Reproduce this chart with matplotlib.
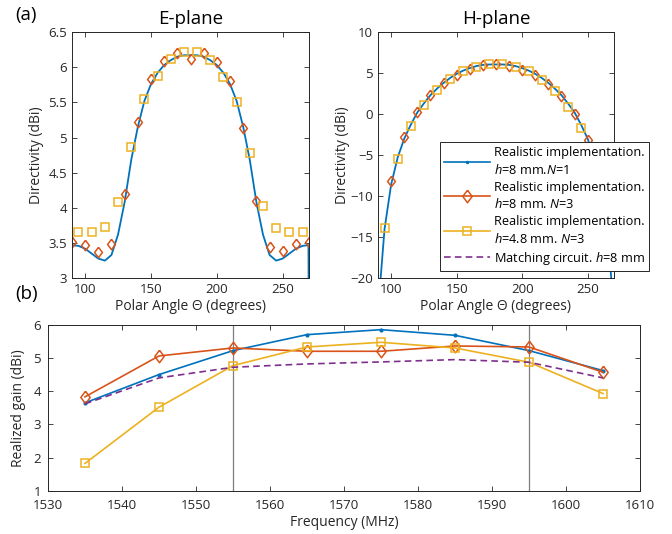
import numpy as np
import matplotlib
matplotlib.use("Agg")
import matplotlib.pyplot as plt
from matplotlib.lines import Line2D

plt.rcParams['font.family'] = ['Open Sans', 'DejaVu Sans']
plt.rcParams['mathtext.fontset'] = 'custom'
plt.rcParams['mathtext.rm'] = 'Open Sans'
plt.rcParams['mathtext.it'] = 'Open Sans:italic'

BLUE = '#0072BD'
RED = '#D95319'
YELLOW = '#EDB120'
PURPLE = '#7E2F8E'
TXT = '#262626'
DIAMOND = [(0, 1), (0.75, 0), (0, -1), (-0.75, 0), (0, 1)]

# ---- E-plane ----
e_theta = [90, 95, 100, 105, 110, 115, 120, 125, 130, 135, 140, 145, 150, 155, 160, 165, 170, 175, 180,
           185, 190, 195, 200, 205, 210, 215, 220, 225, 230, 235, 240, 245, 250, 255, 260, 265, 269.5, 270]
e_n1 = [3.47, 3.46, 3.42, 3.35, 3.28, 3.25, 3.33, 3.62, 4.08, 4.68, 5.15, 5.52, 5.76, 5.92, 6.03, 6.1, 6.15, 6.17, 6.17,
        6.17, 6.15, 6.1, 6.03, 5.92, 5.76, 5.52, 5.15, 4.68, 4.08, 3.62, 3.33, 3.25, 3.28, 3.35, 3.42, 3.46, 3.47, 1.0]
e_red_theta = [90, 100, 110, 120, 130, 140, 150, 160, 170, 180, 190, 200, 210, 220, 230, 240, 250, 260, 270]
e_red = [3.52, 3.47, 3.37, 3.48, 4.2, 5.22, 5.83, 6.09, 6.2, 6.12, 6.2, 6.07, 5.8, 5.13, 4.1, 3.44, 3.38, 3.48, 3.52]
e_yel_theta = [95, 105, 115, 125, 135, 145, 155, 165, 175, 185, 195, 205, 215, 225, 235, 245, 255, 265]
e_yel = [3.66, 3.66, 3.73, 4.09, 4.86, 5.55, 5.88, 6.12, 6.21, 6.21, 6.1, 5.86, 5.5, 4.78, 4.03, 3.71, 3.66, 3.66]

# ---- H-plane ----
h_theta = [92, 95, 100, 105, 110, 115, 120, 125, 130, 135, 140, 145, 150, 155, 160, 165, 170, 175, 180,
           185, 190, 195, 200, 205, 210, 215, 220, 225, 230, 235, 240, 245, 250, 255, 260, 265, 268]
h_n1 = [-20, -14, -8.6, -5.3, -3.0, -1.3, 0.2, 1.3, 2.3, 3.1, 3.8, 4.4, 4.9, 5.3, 5.6, 5.85, 6.0, 6.05, 6.05,
        6.05, 6.0, 5.85, 5.6, 5.3, 4.9, 4.4, 3.8, 3.1, 2.3, 1.3, 0.2, -1.3, -3.0, -5.3, -8.6, -14, -20]
h_red_theta = [100, 110, 120, 130, 140, 150, 160, 170, 180, 190, 200, 210, 220, 230, 240, 250, 260]
h_red = [-8.2, -2.8, 0.3, 2.3, 3.8, 4.8, 5.5, 6.0, 6.1, 5.9, 5.4, 4.8, 3.7, 2.2, 0.0, -3.2, -8.2]
h_yel_theta = [95, 105, 115, 125, 135, 145, 155, 165, 175, 185, 195, 205, 215, 225, 235, 245, 255, 265]
h_yel = [-13.9, -5.5, -1.4, 1.1, 2.9, 4.3, 5.2, 5.8, 6.1, 6.1, 5.8, 5.2, 4.2, 2.8, 0.9, -1.7, -5.5, -13.9]

# ---- realized gain ----
freq = [1535, 1545, 1555, 1565, 1575, 1585, 1595, 1605]
g_n1 = [3.65, 4.5, 5.22, 5.7, 5.85, 5.68, 5.22, 4.62]
g_red = [3.83, 5.06, 5.3, 5.2, 5.2, 5.36, 5.33, 4.57]
g_yel = [1.83, 3.52, 4.77, 5.33, 5.47, 5.3, 4.87, 3.93]
g_match = [3.62, 4.4, 4.72, 4.82, 4.88, 4.95, 4.87, 4.4]
band_edges = [1555, 1595]

labels = ['Realistic implementation.\n$h$=8 mm.$N$=1',
          'Realistic implementation.\n$h$=8 mm. $N$=3',
          'Realistic implementation.\n$h$=4.8 mm. $N$=3',
          'Matching circuit. $h$=8 mm']


def style(ax):
    ax.tick_params(direction='in', top=True, right=True, labelsize=9.5, colors=TXT, length=3.5, width=0.6)
    for s in ax.spines.values():
        s.set_linewidth(0.7)
        s.set_color(TXT)


fig = plt.figure(figsize=(6.72, 5.34), dpi=100)

axE = fig.add_axes([0.107, 0.479, 0.353, 0.461])
axE.plot(e_theta, e_n1, color=BLUE, lw=1.3)
axE.plot(e_red_theta, e_red, ls='none', marker=DIAMOND, ms=7.5, mfc='none', mec=RED, mew=1.1)
axE.plot(e_yel_theta, e_yel, ls='none', marker='s', ms=5.5, mfc='none', mec=YELLOW, mew=1.1)
axE.set_xlim(90, 270)
axE.set_ylim(3, 6.5)
axE.set_xticks([100, 150, 200, 250])
axE.set_yticks(np.arange(3, 6.6, 0.5))
axE.set_yticklabels(['3', '3.5', '4', '4.5', '5', '5.5', '6', '6.5'])
axE.set_xlabel('Polar Angle Θ (degrees)', fontsize=10, color=TXT, labelpad=2)
axE.set_ylabel('Directivity (dBi)', fontsize=10, color=TXT, labelpad=3)
axE.set_title('E-plane', fontsize=13.5, color='black', pad=6)
style(axE)

axH = fig.add_axes([0.5625, 0.479, 0.351, 0.461])
axH.plot(h_theta, h_n1, color=BLUE, lw=1.3)
axH.plot(h_red_theta, h_red, ls='none', marker=DIAMOND, ms=7.5, mfc='none', mec=RED, mew=1.1)
axH.plot(h_yel_theta, h_yel, ls='none', marker='s', ms=5.5, mfc='none', mec=YELLOW, mew=1.1)
axH.set_xlim(90, 270)
axH.set_ylim(-20, 10)
axH.set_xticks([100, 150, 200, 250])
axH.set_yticks(np.arange(-20, 11, 5))
axH.set_xlabel('Polar Angle Θ (degrees)', fontsize=10, color=TXT, labelpad=2)
axH.set_ylabel('Directivity (dBi)', fontsize=10, color=TXT, labelpad=0)
axH.set_title('H-plane', fontsize=13.5, color='black', pad=6)
style(axH)

axG = fig.add_axes([0.0714, 0.0805, 0.881, 0.3115])
for x in band_edges:
    axG.axvline(x, color='#7f7f7f', lw=0.9, zorder=1)
axG.plot(freq, g_n1, color=BLUE, lw=1.2, marker='.', ms=4)
axG.plot(freq, g_red, color=RED, lw=1.2, marker=DIAMOND, ms=9, mfc='none', mew=1.1)
axG.plot(freq, g_yel, color=YELLOW, lw=1.2, marker='s', ms=6, mfc='none', mew=1.1)
axG.plot(freq, g_match, color=PURPLE, lw=1.2, ls=(0, (4, 2.5)))
axG.set_xlim(1530, 1610)
axG.set_ylim(1, 6)
axG.set_xticks(np.arange(1530, 1611, 10))
axG.set_yticks(np.arange(1, 7, 1))
axG.set_xlabel('Frequency (MHz)', fontsize=10, color=TXT, labelpad=2)
axG.set_ylabel('Realized gain (dBi)', fontsize=10, color=TXT, labelpad=5)
style(axG)
axG.tick_params(axis='x', pad=6)
axG.tick_params(axis='y', pad=5)

handles = [Line2D([], [], color=BLUE, lw=1.2, marker='.', ms=3),
           Line2D([], [], color=RED, lw=1.2, marker=DIAMOND, ms=9, mfc='none', mew=1.1),
           Line2D([], [], color=YELLOW, lw=1.2, marker='s', ms=6, mfc='none', mew=1.1),
           Line2D([], [], color=PURPLE, lw=1.2, ls=(0, (4, 2.5)))]
leg = axH.legend(handles, labels, loc='upper left', bbox_to_anchor=(440 / 672, 1 - 142 / 534),
                 bbox_transform=fig.transFigure, fontsize=9.2, frameon=True, fancybox=False,
                 edgecolor=TXT, framealpha=1, handlelength=3.6, handletextpad=0.3,
                 borderpad=0.3, labelspacing=0.3, borderaxespad=0)
leg.get_frame().set_linewidth(0.7)
leg.set_zorder(10)
for t in leg.get_texts():
    t.set_linespacing(1.35)

fig.text(15 / 672, 1 - 15 / 534, '(a)', fontsize=13.5, va='center', ha='left', color='black')
fig.text(15 / 672, 1 - 294 / 534, '(b)', fontsize=13.5, va='center', ha='left', color='black')

fig.savefig('out.png', dpi=100)
